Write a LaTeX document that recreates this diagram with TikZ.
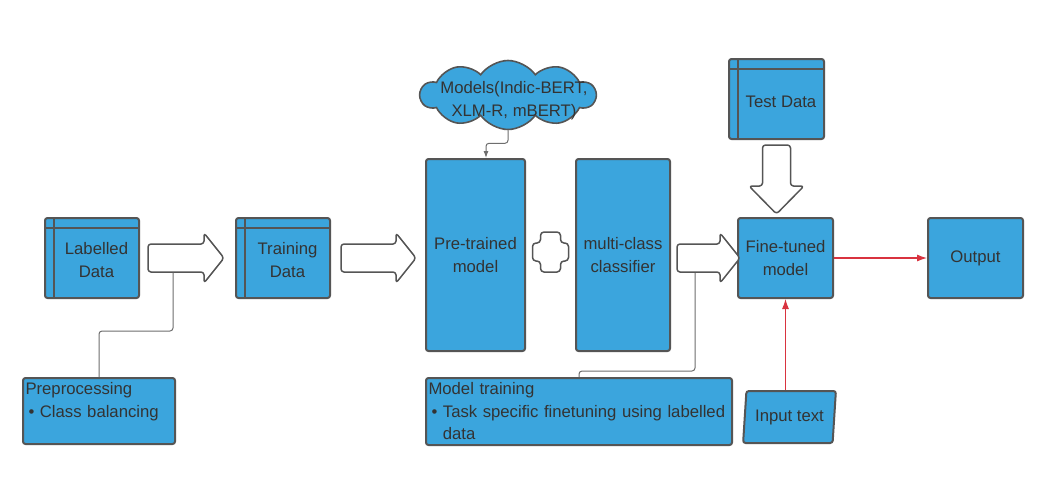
\documentclass[tikz,border=0pt]{standalone}
\usepackage{fontspec}
\setmainfont{Liberation Sans}
\usepackage{xcolor}
\usepackage{tikz}
\usetikzlibrary{calc, shapes, arrows, arrows.meta, positioning, backgrounds}

\definecolor{boxblue}{HTML}{3BA5DD}
\definecolor{edge}{HTML}{555555}
\definecolor{txt}{HTML}{333333}
\definecolor{linkgray}{HTML}{6E6E6E}
\definecolor{linkred}{HTML}{D9333F}

\tikzset{
  box/.style={draw=edge, line width=2pt, fill=boxblue, rounded corners=2.5pt, text=txt,
    font=\fontsize{16.7}{22.5}\selectfont, align=center, inner sep=0pt},
  databox/.style={box, minimum width=94pt, minimum height=80pt,
    path picture={
      \draw[edge, line width=2pt] ([xshift=9pt]path picture bounding box.north west) -- ([xshift=9pt]path picture bounding box.south west);
      \draw[edge, line width=2pt] ([yshift=-10pt]path picture bounding box.north west) -- ([yshift=-10pt]path picture bounding box.north east);
    }},
  notebox/.style={box, align=left, inner xsep=2.5pt, anchor=north west},
  cloudbox/.style={cloud, cloud puffs=10, cloud puff arc=110, cloud ignores aspect, draw=edge, line width=1.6pt,
    fill=boxblue, text=txt, font=\fontsize{16.7}{22.5}\selectfont, inner sep=0pt},
  fatline/.style={draw=edge, line width=1.5pt, fill=white, rounded corners=3pt, line join=round},
  link/.style={draw=linkgray, line width=1pt, rounded corners=3pt},
  redlink/.style={draw=linkred, line width=1.1pt, -{Latex[length=10pt, width=7pt]}},
}

% text of a data box, moved off the side strip and the header strip
\newcommand{\dtext}[1]{\begin{tabular}{@{\hspace{9pt}}c@{}}\rule{0pt}{23pt}#1\end{tabular}}

% tail, angle, length, head length, head half width
\newcommand{\fatarrow}[5]{%
  \draw[fatline, shift={(#1)}, rotate=#2] (0,-14) -- ({#3-#4},-14) -- ({#3-#4},-#5) -- (#3,0)
    -- ({#3-#4},#5) -- ({#3-#4},14) -- (0,14) -- cycle;}

\begin{document}
\begin{tikzpicture}[x=1pt, y=-1pt]
\fill[white] (0,0) rectangle (1057,491);
\useasboundingbox (0,0) rectangle (1057,491);

\node[databox] (ldata) at (92,258) {\dtext{Labelled\\Data}};
\node[databox, right=95pt of ldata] (tdata) {\dtext{Training\\Data}};
\node[box, minimum width=99pt, minimum height=192pt] (ptm) at (475.5,255) {Pre-trained\\model};
\node[box, minimum width=94pt, minimum height=192pt, right=49pt of ptm] (mcc) {multi-class\\classifier};
\node[box, minimum width=95pt, minimum height=80pt] (ftm) at (785.5,258) {Fine-tuned\\model};
\node[box, minimum width=95pt, minimum height=80pt, right=93pt of ftm] (out) {Output};
\node[databox, minimum width=95pt] (test) at (776.5,99) {\dtext{Test Data}};
\node[cloudbox, minimum width=175pt, minimum height=69pt] (models) at (508,95)
  {\makebox[0pt]{\hspace{12pt}\smash{\raisebox{-10pt}{\begin{tabular}{@{}c@{}}Models(Indic-BERT,\\XLM-R, mBERT)\end{tabular}}}}};
\node[notebox, text width=147pt, minimum height=66pt] (pre) at (22,377)
  {Preprocessing\\\hspace*{3pt}\textbullet\ Class balancing\\\mbox{}};
\node[notebox, text width=301pt, minimum height=67pt] (mtr) at (425,377)
  {Model training\\\hspace*{3pt}\textbullet\ Task specific finetuning using labelled\\\hspace*{3pt}\phantom{\textbullet\ }data};
\node[box, trapezium, trapezium left angle=80, trapezium right angle=100, trapezium stretches=true,
  minimum width=93pt, minimum height=52pt] (inp) at (789.5,417) {Input text};

% block arrows
\fatarrow{$(ldata.east)+(8,0)$}{0}{76}{20}{25}
\fatarrow{$(tdata.east)+(10,0)$}{0}{75}{20}{25}
\fatarrow{$(mcc.east)+(6,3)$}{0}{63}{20}{25}
\fatarrow{$(test.south)+(0,5)$}{-90}{69}{28}{27.5}

% plus sign
\draw[fatline, rounded corners=3.5pt, shift={($(ptm.east)!0.5!(mcc.west)+(0,-3)$)}]
  (-10,-20) -- (10,-20) -- (10,-9) -- (18,-9) -- (18,9) -- (10,9) -- (10,20)
  -- (-10,20) -- (-10,9) -- (-18,9) -- (-18,-9) -- (-10,-9) -- cycle;

% thin connectors
\coordinate (prej) at (173,272.5);
\coordinate (mtrj) at (695,273);
\draw[link] (pre.north) -- ++(0,-46) -| (prej);
\draw[link] (mtr.north) -- ++(0,-6) -| (mtrj);
\draw[link, -{Latex[length=7pt, width=5pt]}] (models.south) -- ++(0,13) -| ([xshift=10.5pt]ptm.north);

\draw[redlink] (ftm) -- (out);
\draw[redlink] (inp.north -| ftm.south) -- (ftm.south);
\end{tikzpicture}
\end{document}
